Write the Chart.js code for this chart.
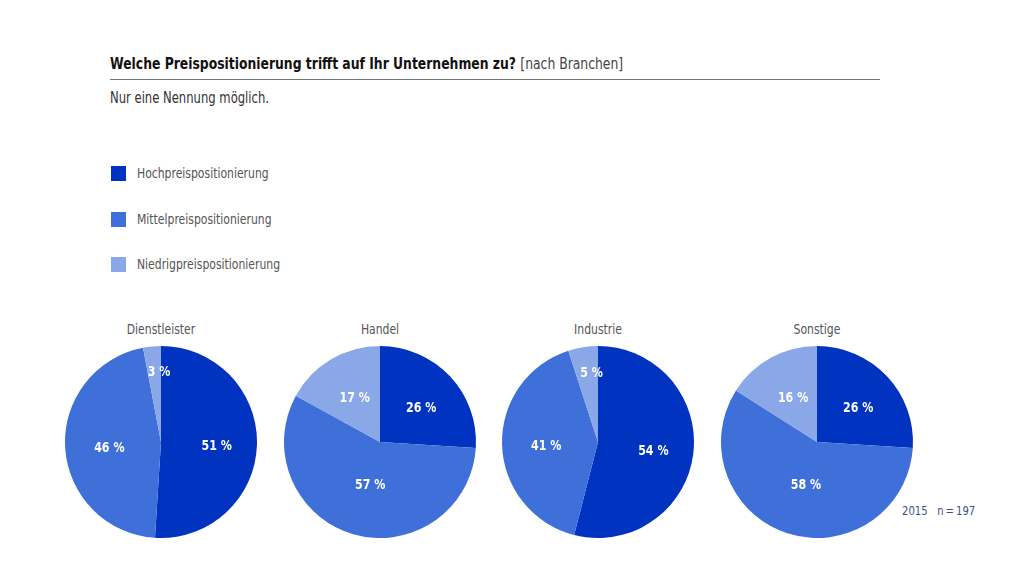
<!DOCTYPE html>
<html><head><meta charset="utf-8">
<script src="https://cdn.jsdelivr.net/npm/chart.js@4"></script>
<style>
html,body{margin:0;padding:0;background:#fff;width:1030px;height:574px;overflow:hidden;}
body{position:relative;font-family:"Liberation Sans Narrow","DejaVu Sans Condensed","Roboto",sans-serif;}
.t{position:absolute;white-space:nowrap;transform:scaleX(0.86);transform-origin:0 50%;}
#title{left:110px;top:54px;font-size:16px;color:#111;font-weight:bold;}
#title span{font-weight:normal;color:#444;}
#rule{position:absolute;left:110px;top:79px;width:770px;height:1px;background:#777;}
#sub{left:110px;top:89px;font-size:15px;color:#333;}
.sw{position:absolute;width:15px;height:15px;}
.lg{font-size:14px;color:#555;}
.pt{font-size:14px;color:#555;text-align:center;width:200px;transform-origin:50% 50%;}
canvas{position:absolute;}
#note{left:902px;top:503px;font-size:13px;color:#3b4f8c;}
</style></head><body>
<div id="title" class="t">Welche Preispositionierung trifft auf Ihr Unternehmen zu? <span>[nach Branchen]</span></div>
<div id="rule"></div>
<div id="sub" class="t">Nur eine Nennung möglich.</div>
<div id="note" class="t">2015&nbsp;&nbsp;&nbsp;n&thinsp;=&thinsp;197</div>
<script>
const seriesLabels = ["Hochpreispositionierung","Mittelpreispositionierung","Niedrigpreispositionierung"];
const colors = ["#0033bf","#3f6fd8","#8aa7e8"];
const branches = ["Dienstleister","Handel","Industrie","Sonstige"];
const dienstleister = [51,46,3];
const handel = [26,57,17];
const industrie = [54,41,5];
const sonstige = [26,58,16];
const allValues = [dienstleister,handel,industrie,sonstige];

// legend
seriesLabels.forEach((l,i)=>{
  const y = 166 + i*45.5;
  const s = document.createElement('div'); s.className='sw';
  s.style.left='111px'; s.style.top=y+'px'; s.style.background=colors[i];
  document.body.appendChild(s);
  const t = document.createElement('div'); t.className='t lg';
  t.style.left='137px'; t.style.top=(y-1)+'px'; t.textContent=l;
  document.body.appendChild(t);
});

const centersX = [161,380,598,817];
const centerY = 442;

const labelPlugin = {
  id:'sliceLabels',
  afterDatasetsDraw(chart){
    const ctx = chart.ctx;
    const meta = chart.getDatasetMeta(0);
    const data = chart.data.datasets[0].data;
    ctx.save();
    ctx.fillStyle='#fff';
    ctx.font='bold 14px "Liberation Sans Narrow","DejaVu Sans Condensed",Roboto,sans-serif';
    ctx.textAlign='center'; ctx.textBaseline='middle';
    meta.data.forEach((arc,i)=>{
      const p = arc.getProps(['x','y','startAngle','endAngle','outerRadius'],true);
      const mid = (p.startAngle+p.endAngle)/2;
      const v = data[i];
      const f = v<6 ? 0.76 : (v>55 ? 0.44 : 0.56);
      const x = p.x + Math.cos(mid)*p.outerRadius*f + (v<6 ? 5 : 2);
      const y = p.y + Math.sin(mid)*p.outerRadius*f + 3;
      ctx.save();
      ctx.translate(x,y); ctx.scale(0.88,1);
      ctx.fillText(v+' %', 0, 0);
      ctx.restore();
    });
    ctx.restore();
  }
};

branches.forEach((b,k)=>{
  const t = document.createElement('div'); t.className='t pt';
  t.style.left=(centersX[k]-100)+'px'; t.style.top='321px'; t.textContent=b;
  document.body.appendChild(t);
  const c = document.createElement('canvas');
  c.style.left=(centersX[k]-100)+'px'; c.style.top=(centerY-100)+'px';
  c.style.width='200px'; c.style.height='200px';
  document.body.appendChild(c);
  new Chart(c,{
    type:'pie',
    data:{labels:seriesLabels,datasets:[{data:allValues[k],backgroundColor:colors,borderWidth:0}]},
    options:{responsive:false,animation:false,devicePixelRatio:1,
      layout:{padding:4},
      plugins:{legend:{display:false},tooltip:{enabled:false}}},
    plugins:[labelPlugin]
  });
});
</script>
</body></html>
